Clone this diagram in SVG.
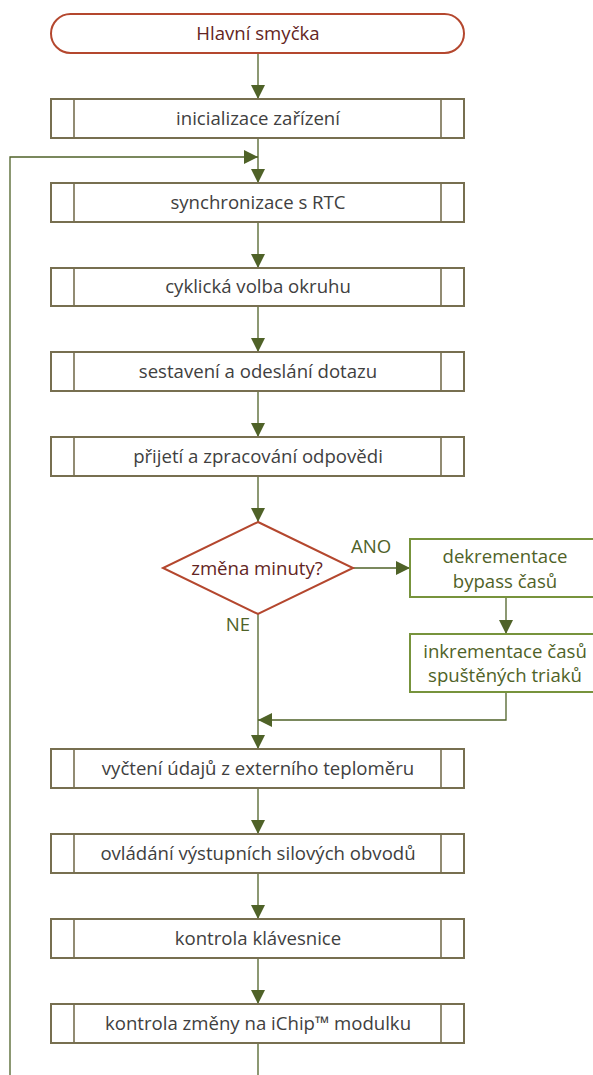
<svg xmlns="http://www.w3.org/2000/svg" width="593" height="1075" viewBox="0 0 593 1075">
  <style>
    .proc { fill: #ffffff; stroke: #776f50; stroke-width: 2; }
    .bar { stroke: #776f50; stroke-width: 1.6; }
    .term { fill: #ffffff; stroke: #b4472e; stroke-width: 2; }
    .side { fill: #ffffff; stroke: #77933c; stroke-width: 2; }
    .conn { fill: none; stroke: #4f6228; stroke-width: 1.3; }
    text { font-family: "Open Sans", "Liberation Sans", sans-serif; font-size: 18.6px; text-anchor: middle; }
    .t { fill: #404040; }
    .tr { fill: #632523; }
    .tg { fill: #4f6228; }
  </style>
  <defs>
    <marker id="ah" viewBox="0 0 14 14" refX="14" refY="7" markerWidth="14" markerHeight="14" markerUnits="userSpaceOnUse" orient="auto">
      <path d="M0,0 L14,7 L0,14 Z" fill="#4f6228"/>
    </marker>
  </defs>

  <!-- connectors -->
  <g id="connectors">
    <line class="conn" x1="258" y1="53" x2="258" y2="99" marker-end="url(#ah)"/>
    <line class="conn" x1="258" y1="138" x2="258" y2="183" marker-end="url(#ah)"/>
    <polyline class="conn" points="10,1075 10,157 258,157" marker-end="url(#ah)"/>
    <line class="conn" x1="258" y1="222" x2="258" y2="268" marker-end="url(#ah)"/>
    <line class="conn" x1="258" y1="306" x2="258" y2="352" marker-end="url(#ah)"/>
    <line class="conn" x1="258" y1="391" x2="258" y2="437" marker-end="url(#ah)"/>
    <line class="conn" x1="258" y1="476" x2="258" y2="522" marker-end="url(#ah)"/>
    <line class="conn" x1="353" y1="568" x2="410" y2="568" marker-end="url(#ah)"/>
    <line class="conn" x1="506" y1="597" x2="506" y2="634" marker-end="url(#ah)"/>
    <polyline class="conn" points="506,692 506,720 258,720" marker-end="url(#ah)"/>
    <line class="conn" x1="258" y1="614" x2="258" y2="749" marker-end="url(#ah)"/>
    <line class="conn" x1="258" y1="788" x2="258" y2="834" marker-end="url(#ah)"/>
    <line class="conn" x1="258" y1="873" x2="258" y2="919" marker-end="url(#ah)"/>
    <line class="conn" x1="258" y1="958" x2="258" y2="1004" marker-end="url(#ah)"/>
    <line class="conn" x1="258" y1="1043" x2="258" y2="1075"/>
    <text class="tg" x="371" y="553">ANO</text>
    <text class="tg" x="238" y="631">NE</text>
  </g>

  <g id="start">
    <rect class="term" x="51" y="14" width="413" height="39" rx="19.5"/>
    <text class="tr" x="258" y="40">Hlavní smyčka</text>
  </g>

  <g id="init">
    <rect class="proc" x="51" y="99" width="413" height="39"/>
    <line class="bar" x1="74" y1="99" x2="74" y2="138"/>
    <line class="bar" x1="441" y1="99" x2="441" y2="138"/>
    <text class="t" x="258" y="125">inicializace zařízení</text>
  </g>

  <g id="rtc">
    <rect class="proc" x="51" y="183" width="413" height="39"/>
    <line class="bar" x1="74" y1="183" x2="74" y2="222"/>
    <line class="bar" x1="441" y1="183" x2="441" y2="222"/>
    <text class="t" x="258" y="209">synchronizace s RTC</text>
  </g>

  <g id="circuit">
    <rect class="proc" x="51" y="268" width="413" height="38"/>
    <line class="bar" x1="74" y1="268" x2="74" y2="306"/>
    <line class="bar" x1="441" y1="268" x2="441" y2="306"/>
    <text class="t" x="258" y="293">cyklická volba okruhu</text>
  </g>

  <g id="query">
    <rect class="proc" x="51" y="352" width="413" height="39"/>
    <line class="bar" x1="74" y1="352" x2="74" y2="391"/>
    <line class="bar" x1="441" y1="352" x2="441" y2="391"/>
    <text class="t" x="258" y="378">sestavení a odeslání dotazu</text>
  </g>

  <g id="reply">
    <rect class="proc" x="51" y="437" width="413" height="39"/>
    <line class="bar" x1="74" y1="437" x2="74" y2="476"/>
    <line class="bar" x1="441" y1="437" x2="441" y2="476"/>
    <text class="t" x="258" y="463">přijetí a zpracování odpovědi</text>
  </g>

  <g id="minute">
    <polygon class="term" points="258,522 353,568 258,614 163,568"/>
    <text class="tr" x="257" y="575">změna minuty?</text>
  </g>

  <g id="bypass">
    <rect class="side" x="410" y="539" width="192" height="58"/>
    <text class="tg" x="505" y="563">dekrementace</text>
    <text class="tg" x="505" y="588">bypass časů</text>
  </g>

  <g id="triac">
    <rect class="side" x="410" y="634" width="192" height="58"/>
    <text class="tg" x="505" y="658">inkrementace časů</text>
    <text class="tg" x="505" y="682">spuštěných triaků</text>
  </g>

  <g id="thermo">
    <rect class="proc" x="51" y="749" width="413" height="39"/>
    <line class="bar" x1="74" y1="749" x2="74" y2="788"/>
    <line class="bar" x1="441" y1="749" x2="441" y2="788"/>
    <text class="t" x="258" y="775">vyčtení údajů z externího teploměru</text>
  </g>

  <g id="outputs">
    <rect class="proc" x="51" y="834" width="413" height="39"/>
    <line class="bar" x1="74" y1="834" x2="74" y2="873"/>
    <line class="bar" x1="441" y1="834" x2="441" y2="873"/>
    <text class="t" x="258" y="860">ovládání výstupních silových obvodů</text>
  </g>

  <g id="keyboard">
    <rect class="proc" x="51" y="919" width="413" height="39"/>
    <line class="bar" x1="74" y1="919" x2="74" y2="958"/>
    <line class="bar" x1="441" y1="919" x2="441" y2="958"/>
    <text class="t" x="258" y="945">kontrola klávesnice</text>
  </g>

  <g id="ichip">
    <rect class="proc" x="51" y="1004" width="413" height="39"/>
    <line class="bar" x1="74" y1="1004" x2="74" y2="1043"/>
    <line class="bar" x1="441" y1="1004" x2="441" y2="1043"/>
    <text class="t" x="258" y="1030">kontrola změny na iChip™ modulku</text>
  </g>
</svg>
